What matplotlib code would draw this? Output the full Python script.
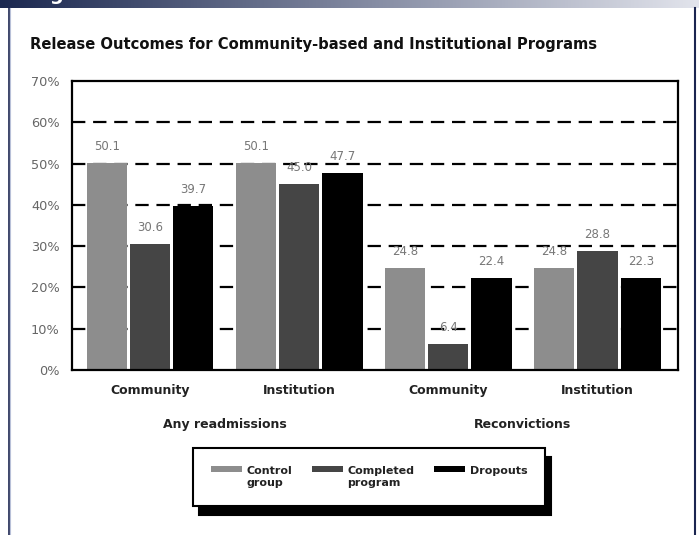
import numpy as np
import matplotlib
matplotlib.use("Agg")
import matplotlib.pyplot as plt
from matplotlib.patches import Patch
from matplotlib.lines import Line2D

# ---- data ----
groups = ["Community", "Institution", "Community", "Institution"]
outcomes = ["Any readmissions", "Reconvictions"]
series = ["Control\ngroup", "Completed\nprogram", "Dropouts"]
control = [50.1, 50.1, 24.8, 24.8]
completed = [30.6, 45.0, 6.4, 28.8]
dropouts = [39.7, 47.7, 22.4, 22.3]
yticks = [0, 10, 20, 30, 40, 50, 60, 70]
ylabels = ["0%", "10%", "20%", "30%", "40%", "50%", "60%", "70%"]
title = "Release Outcomes for Community-based and Institutional Programs"

colors = ["#8d8d8d", "#454545", "#000000"]

W, H = 699, 535
fig = plt.figure(figsize=(W / 100, H / 100), dpi=100)
fig.patch.set_facecolor("white")

# top banner gradient
bax = fig.add_axes([0, 1 - 8 / H, 1, 8 / H])
c0 = np.array([0x1b, 0x28, 0x50]) / 255
c1 = np.array([0xe2, 0xe4, 0xec]) / 255
t = np.linspace(0, 1, 256)
grad = (c0[None, :] * (1 - t[:, None]) + c1[None, :] * t[:, None])[None, :, :]
bax.imshow(grad, aspect="auto", extent=[0, 1, 0, 1])
bax.set_axis_off()
fig.text(30 / W, 1 + 0.5 / H, "Figure", color="white", fontsize=14,
         fontweight="bold", va="baseline", ha="left")

# side frame lines
fig.add_artist(Line2D([8.5 / W, 8.5 / W], [0, 1 - 8 / H], color="#1b2550", lw=1.2))
fig.add_artist(Line2D([10 / W, 10 / W], [0, 1 - 8 / H], color="#b8c0d8", lw=0.8))
fig.add_artist(Line2D([695 / W, 695 / W], [0, 1 - 8 / H], color="#1b2550", lw=1.5))

# title
fig.text(30 / W, 1 - 45 / H, title, fontsize=10.6, fontweight="bold",
         color="#111111", ha="left", va="center")

# main axes
ax = fig.add_axes([72 / W, (H - 370) / H, 606 / W, 289 / H])
x = np.arange(len(groups))
bw = 0.27
off = 0.29
vals = [control, completed, dropouts]
for i, (v, c) in enumerate(zip(vals, colors)):
    bars = ax.bar(x + (i - 1) * off, v, width=bw, color=c, linewidth=0, zorder=2)
    ax.bar_label(bars, labels=[f"{val:.1f}" for val in v], padding=7,
                 fontsize=8.5, color="#777777")

ax.set_xlim(-0.523, 3.54)
ax.set_ylim(0, 70)
ax.set_yticks(yticks)
ax.set_yticklabels(ylabels, fontsize=9.3, color="#666666")
ax.set_xticks(x)
ax.set_xticklabels(groups, fontsize=9, fontweight="bold", color="#222222")
ax.tick_params(axis="both", length=0)
ax.tick_params(axis="y", pad=9)
ax.tick_params(axis="x", pad=10)
for yv in yticks[1:-1]:
    ax.axhline(yv, color="black", lw=1.6, dashes=(6, 3.5), zorder=1)
for s in ax.spines.values():
    s.set_linewidth(1.6)
    s.set_color("black")

for k, name in enumerate(outcomes):
    ax.text(2 * k + 0.5, -0.19, name, transform=ax.get_xaxis_transform(),
            ha="center", va="center", fontsize=9, fontweight="bold",
            color="#222222")

handles = [Patch(facecolor=c, edgecolor="none") for c in colors]
leg = fig.legend(handles, series, loc="center", bbox_to_anchor=(369 / W, 1 - 477 / H),
                 ncol=3, frameon=True, fancybox=False,
                 prop={"weight": "bold", "size": 8},
                 handlelength=2.8, handleheight=0.45, handletextpad=0.45,
                 columnspacing=1.7, borderpad=1.6,
                 shadow={"ox": 4.5, "oy": -6.5, "color": "black", "alpha": 1})
leg.get_frame().set_edgecolor("black")
leg.get_frame().set_linewidth(1.5)
for txt in leg.get_texts():
    txt.set_color("#222222")
leg._legend_handle_box.align = "top"
for col in leg._legend_handle_box.get_children():
    col.align = "left"
    for hp in col.get_children():
        hp.align = "top"

fig.savefig("out.png", dpi=100)
